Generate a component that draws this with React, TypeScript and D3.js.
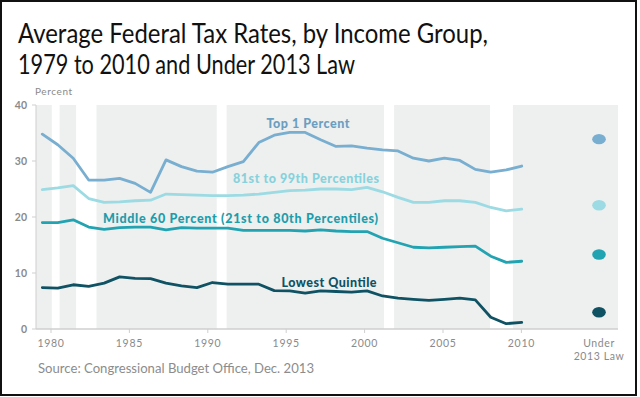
import React from 'react';
import * as d3 from 'd3';

// years 1979..2010, values in percent
const years = d3.range(1979, 2011);

const top1 = [34.8, 32.9, 30.5, 26.6, 26.6, 26.9, 26.0, 24.4, 30.2, 29.0, 28.2, 28.0, 29.0, 29.9, 33.3, 34.6, 35.1, 35.1, 33.8, 32.6, 32.7, 32.3, 32.0, 31.8, 30.5, 30.0, 30.5, 30.1, 28.5, 28.0, 28.4, 29.1];
const p81to99 = [24.9, 25.2, 25.6, 23.3, 22.6, 22.7, 22.9, 23.0, 24.1, 24.0, 23.9, 23.8, 23.8, 23.9, 24.1, 24.4, 24.7, 24.8, 25.0, 25.0, 24.9, 25.3, 24.5, 23.5, 22.6, 22.6, 22.9, 22.9, 22.6, 21.7, 21.1, 21.4];
const middle60 = [19.0, 19.0, 19.5, 18.2, 17.8, 18.1, 18.2, 18.2, 17.7, 18.1, 18.0, 18.0, 18.0, 17.6, 17.6, 17.6, 17.6, 17.5, 17.7, 17.5, 17.4, 17.4, 16.2, 15.4, 14.6, 14.5, 14.6, 14.7, 14.8, 13.0, 11.9, 12.1];
const lowest = [7.4, 7.3, 7.9, 7.6, 8.2, 9.3, 9.05, 9.0, 8.2, 7.7, 7.4, 8.3, 8.0, 8.0, 8.0, 6.85, 6.8, 6.4, 6.8, 6.7, 6.6, 6.8, 5.9, 5.5, 5.3, 5.1, 5.3, 5.5, 5.2, 2.1, 0.95, 1.2];

// rates under 2013 law (dots on the right)
const under2013 = [33.9, 22.1, 13.3, 3.0];

const seriesNames = ['Top 1 Percent', '81st to 99th Percentiles', 'Middle 60 Percent (21st to 80th Percentiles)', 'Lowest Quintile'];
const lineColors = ['#78aed0', '#9cdbe3', '#22a3b1', '#0f5263'];
const labelColors = ['#6a9fc1', '#86d2dc', '#1c9dab', '#0f5263'];

// recessions (white gaps in the shading), decimal years
const recessions: [number, number][] = [[1980.05, 1980.55], [1981.6, 1982.9], [1990.57, 1991.2], [2001.24, 2001.88], [2008.0, 2009.46]];

const xTicks = [1980, 1985, 1990, 1995, 2000, 2005, 2010];
const yTicks = [0, 10, 20, 30, 40];

const W = 640;
const H = 397;
const plot = { left: 36, right: 618, top: 105, bottom: 329 };

export default function App() {
  const all = [top1, p81to99, middle60, lowest];

  // the data points and the axis ticks sit on slightly different grids in the original
  const xData = d3.scaleLinear().domain([1979, 2010]).range([42.3, 521.7]);
  const xTick = d3.scaleLinear().domain([1980, 2010]).range([51, 521.4]);
  const y = d3.scaleLinear().domain([0, 40]).range([plot.bottom, plot.top]);

  const line = d3.line<number>()
    .x((_, i) => xData(years[i]))
    .y(d => y(d));

  const dotX = xData(2015);

  // label positions: [x start, center y, text width]
  const labelPos: [number, number, number][] = [
    [266.5, 123.5, 83],
    [233, 178.5, 146],
    [103, 219, 275],
    [281.5, 283, 95],
  ];

  const axisFont = 'Lato, "DejaVu Sans", sans-serif';

  return (
    <svg width={W} height={H} style={{ position: 'absolute', left: 0, top: 0, background: '#fff' }}>
      <text x={18} y={43} fontFamily="Lato, 'Open Sans', sans-serif" fontSize={26} fill="#111"
        textLength={470} lengthAdjust="spacingAndGlyphs">
        Average Federal Tax Rates, by Income Group,
      </text>
      <text x={18} y={74} fontFamily="Lato, 'Open Sans', sans-serif" fontSize={26} fill="#111"
        textLength={337} lengthAdjust="spacingAndGlyphs">
        1979 to 2010 and Under 2013 Law
      </text>

      {/* shaded background with recession gaps */}
      <rect x={plot.left} y={plot.top} width={plot.right - plot.left} height={plot.bottom - plot.top} fill="#eeefef" />
      {recessions.map(([a, b], i) => (
        <rect key={i} x={xTick(a)} y={plot.top} width={xTick(b) - xTick(a)} height={plot.bottom - plot.top} fill="#fff" />
      ))}

      {/* y axis */}
      <text x={35} y={95} fontFamily={axisFont} fontSize={10} fill="#8a8a8a" letterSpacing={0.6}>Percent</text>
      <line x1={plot.left} x2={plot.left} y1={plot.top} y2={plot.bottom} stroke="#cfcfcf" strokeWidth={1} />
      {yTicks.map(t => (
        <g key={t}>
          <line x1={32} x2={plot.left} y1={y(t)} y2={y(t)} stroke="#cfcfcf" />
          <text x={27} y={y(t)} dy="0.35em" textAnchor="end" fontFamily={axisFont} fontSize={10.5} fill="#8a8a8a" fontWeight={700}>{t}</text>
        </g>
      ))}

      {/* x axis */}
      <line x1={plot.left} x2={plot.right} y1={plot.bottom} y2={plot.bottom} stroke="#cfcfcf" strokeWidth={1.5} />
      {xTicks.map(t => (
        <g key={t}>
          <line x1={xTick(t)} x2={xTick(t)} y1={plot.bottom} y2={plot.bottom + 4} stroke="#cfcfcf" />
          <text x={xTick(t)} y={347} textAnchor="middle" fontFamily={axisFont} fontSize={10.5} fill="#8a8a8a" letterSpacing={0.7}>{t}</text>
        </g>
      ))}
      <text x={dotX} y={347} textAnchor="middle" fontFamily={axisFont} fontSize={10.5} fill="#8a8a8a" letterSpacing={0.6}>Under</text>
      <text x={dotX} y={360} textAnchor="middle" fontFamily={axisFont} fontSize={10.5} fill="#8a8a8a" letterSpacing={0.6}>2013 Law</text>

      {/* series */}
      {all.map((s, i) => (
        <path key={i} d={line(s) || ''} fill="none" stroke={lineColors[i]} strokeWidth={2.8}
          strokeLinejoin="round" strokeLinecap="round" />
      ))}
      {under2013.map((v, i) => (
        <ellipse key={i} cx={dotX} cy={y(v)} rx={6.8} ry={5.2} fill={lineColors[i]} />
      ))}

      {seriesNames.map((n, i) => (
        <text key={n} x={labelPos[i][0]} y={labelPos[i][1]} dy="0.35em" fontFamily="Lato, 'DejaVu Sans', sans-serif"
          fontWeight={900} fontSize={12.5} fill={labelColors[i]} textLength={labelPos[i][2]} lengthAdjust="spacing">
          {n}
        </text>
      ))}

      <text x={38} y={373} fontFamily="Lato, 'Open Sans', sans-serif" fontSize={14} fill="#8c8c8c"
        textLength={276} lengthAdjust="spacingAndGlyphs">
        Source: Congressional Budget Office, Dec. 2013
      </text>

      <rect x={1} y={1} width={635} height={394} fill="none" stroke="#111" strokeWidth={2} />
    </svg>
  );
}
